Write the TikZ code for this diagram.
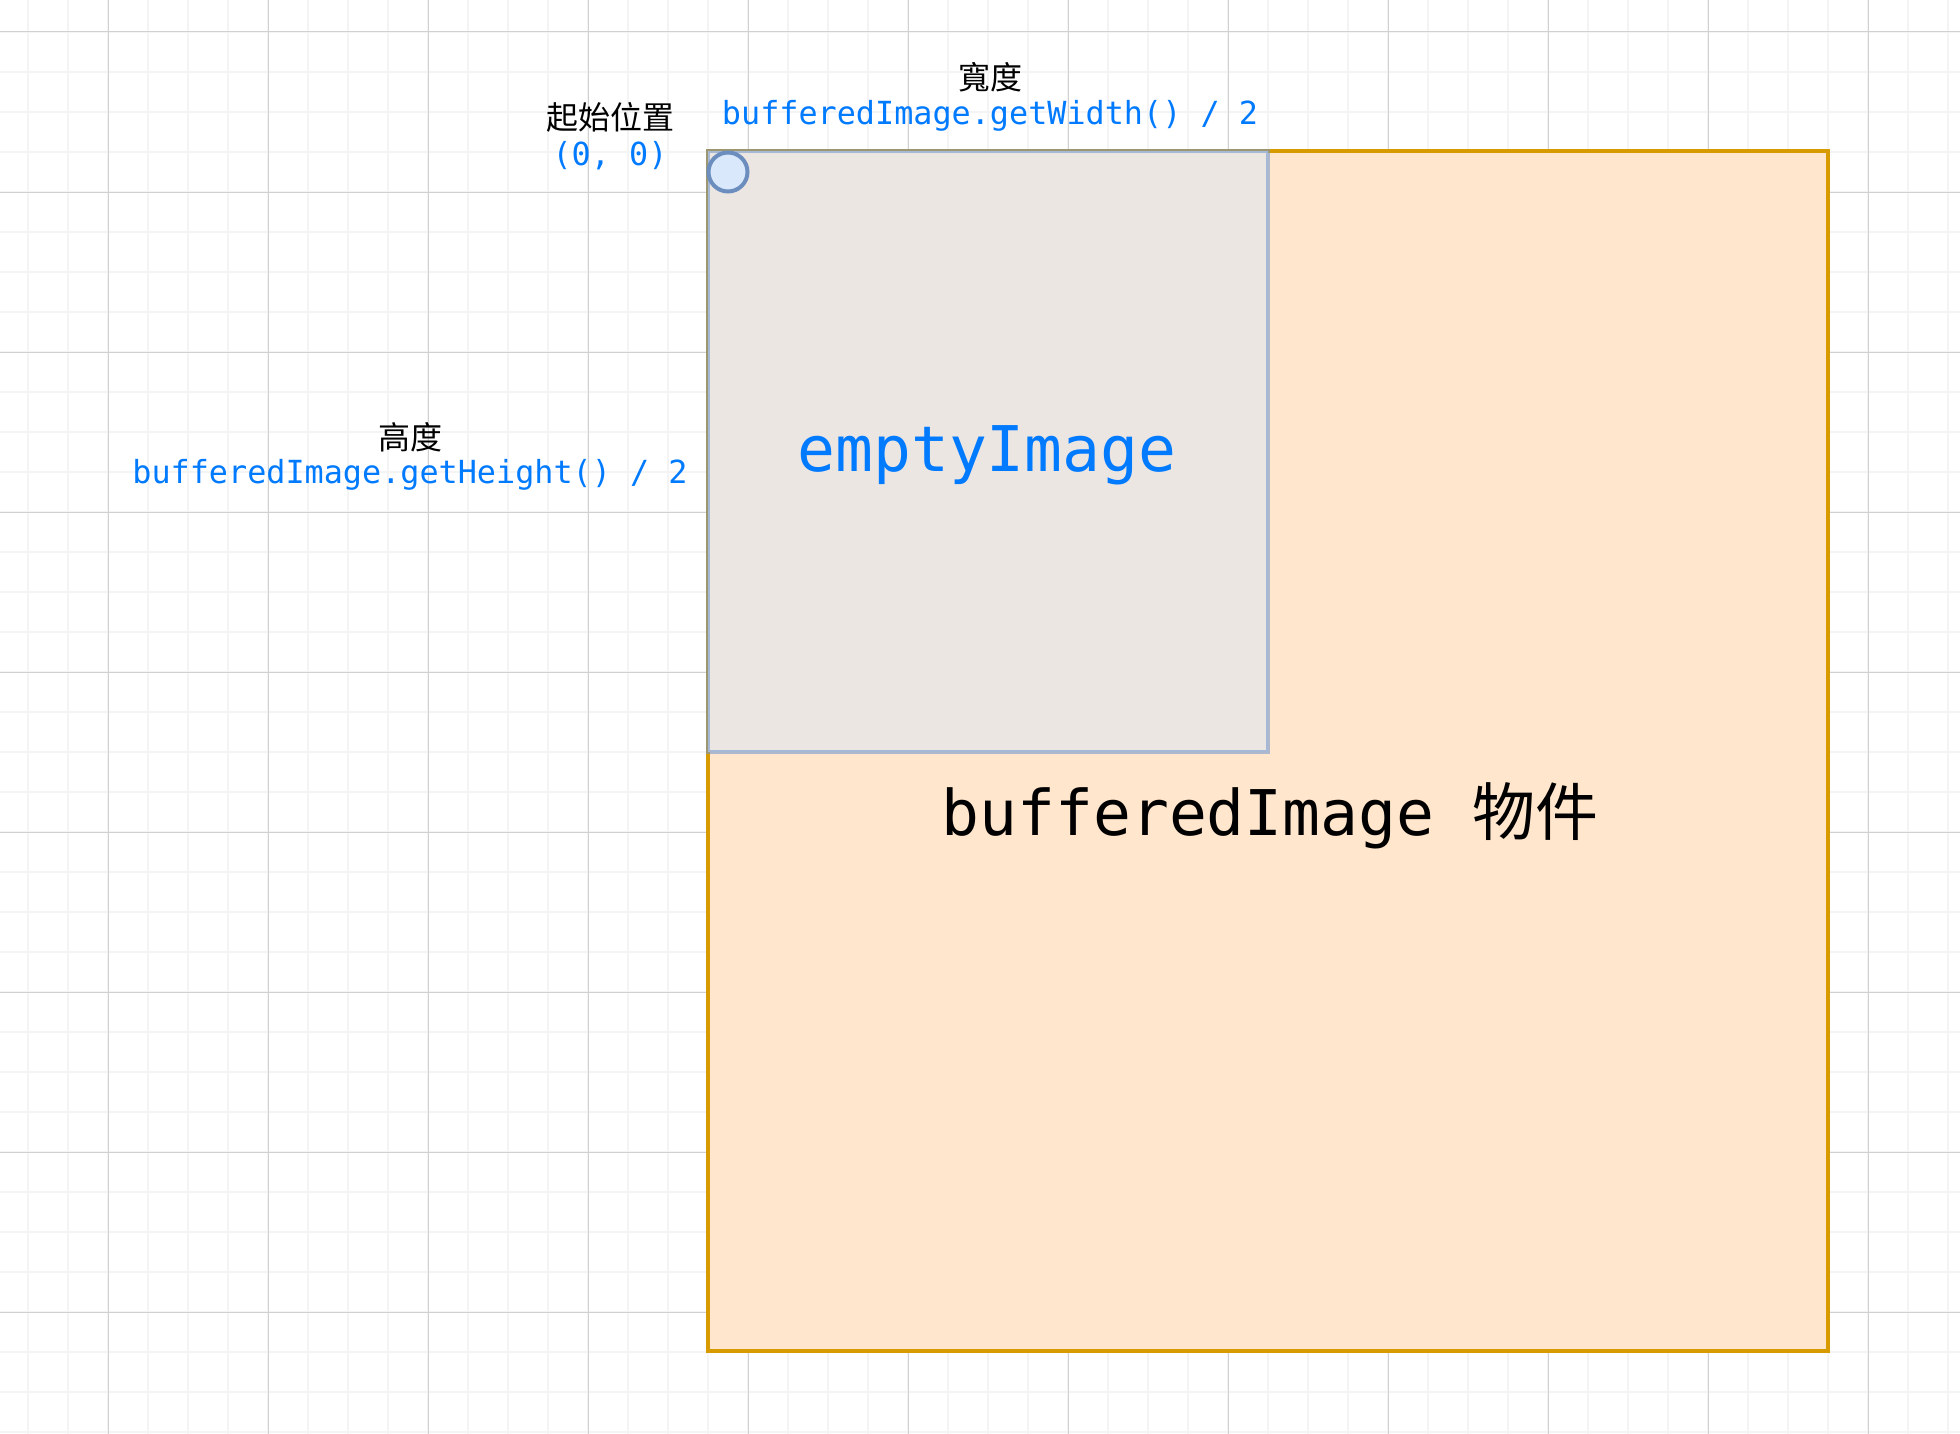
\documentclass[tikz,border=0pt]{standalone}
\usepackage{fontspec}
\setmonofont{DejaVu Sans Mono}
\newfontfamily\cjk{Noto Sans CJK TC}
\definecolor{gridmajor}{RGB}{208,208,208}
\definecolor{gridminor}{RGB}{244,244,244}
\definecolor{codeblue}{RGB}{0,122,255}
\definecolor{objfill}{RGB}{255,230,204}
\definecolor{objdraw}{RGB}{215,155,0}
\definecolor{emptyfill}{RGB}{236,230,227}
\definecolor{emptydraw}{RGB}{108,148,205}
\definecolor{dotfill}{RGB}{218,232,252}
\definecolor{dotdraw}{RGB}{108,142,191}
\tikzset{
  smallcode/.style={font=\fontsize{15.9pt}{19pt}\selectfont\ttfamily, text=codeblue, inner sep=0pt},
  smallcjk/.style={font=\fontsize{16pt}{19pt}\selectfont\cjk, text=black, inner sep=0pt},
  bigcode/.style={font=\fontsize{31.5pt}{36pt}\selectfont\ttfamily, inner sep=0pt},
}
\begin{document}
\begin{tikzpicture}[x=0.5pt,y=-0.5pt]
\useasboundingbox (0,0) rectangle (1960,1434);
\fill[white] (0,0) rectangle (1960,1434);
% minor grid
\foreach \i in {0,...,48} {
  \draw[gridminor, line width=0.8pt] ({28+40*\i},0) -- ({28+40*\i},1434);
}
\foreach \j in {0,...,35} {
  \draw[gridminor, line width=0.8pt] (0,{32+40*\j}) -- (1960,{32+40*\j});
}
% major grid
\foreach \i in {0,...,11} {
  \draw[gridmajor, line width=0.5pt] ({108+160*\i},0) -- ({108+160*\i},1434);
}
\foreach \j in {0,...,8} {
  \draw[gridmajor, line width=0.5pt] (0,{32+160*\j}) -- (1960,{32+160*\j});
}
% buffered image object
\draw[fill=objfill, draw=objdraw, line width=2pt] (707.5,151) rectangle (1827.5,1351);
% empty image
\fill[emptyfill] (707.5,151) rectangle (1268,751.5);
\draw[draw=emptydraw, line width=2pt, draw opacity=0.55] (707.5,151) rectangle (1268,751.5);
% origin dot
\node[circle, minimum size=19.5pt, inner sep=0pt, fill=dotfill, draw=dotdraw, line width=2pt] (origin) at (728,172) {};
% labels
\node[smallcjk] (startlbl) at (610,117) {起始位置};
\node[smallcode] (startval) at (610,156) {(0, 0)};
\node[smallcjk] (wlbl) at (990,77) {寬度};
\node[smallcode] (wval) at (990,116) {bufferedImage.getWidth() / 2};
\node[smallcjk] (hlbl) at (410,437) {高度};
\node[smallcode] (hval) at (410,475) {bufferedImage.getHeight() / 2};
\node[bigcode, text=codeblue] (emptylbl) at (987,455) {emptyImage};
\node[bigcode, text=black] (objlbl) at (1270,816) {bufferedImage {\cjk 物件}};
\end{tikzpicture}
\end{document}
